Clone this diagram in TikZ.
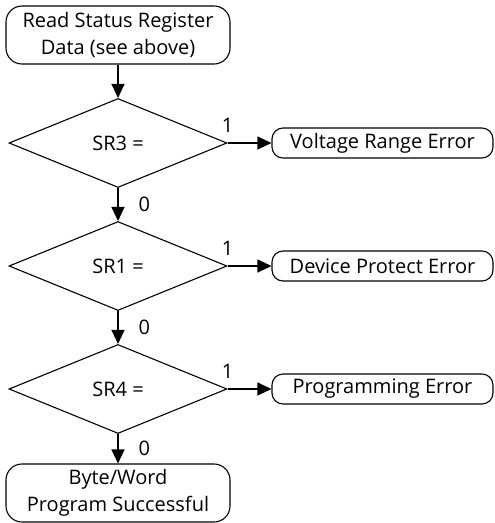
\documentclass[tikz,border=0pt]{standalone}
\usepackage{fontspec}
\setmainfont{Open Sans}
\usetikzlibrary{shapes.geometric,arrows.meta}
\begin{document}
\begin{tikzpicture}[x=1pt,y=-1pt,
  every node/.style={font=\fontsize{20}{27}\selectfont},
  conn/.style={line width=1.1pt,-{Triangle[length=14pt,width=13pt]}},
  bigbox/.style={draw,line width=1.1pt,rounded corners=16pt,minimum width=224pt,minimum height=58pt,align=center,inner sep=0pt},
  errbox/.style={draw,line width=1.1pt,rounded corners=11pt,minimum width=221pt,minimum height=30pt,inner sep=0pt},
  decision/.style={draw,diamond,line width=1.1pt,minimum width=218pt,minimum height=89pt,inner sep=0pt},
  lbl/.style={inner sep=0pt}]
\useasboundingbox (0,0) rectangle (495,523);
\node[bigbox] (start) at (118,35) {Read Status Register\\Data (see above)};
\node[decision] (d1) at (118,143) {SR3 =};
\node[decision] (d2) at (118,266) {SR1 =};
\node[decision] (d3) at (118,389) {SR4 =};
\node[bigbox] (done) at (118,493) {Byte/Word\\Program Successful};
\node[errbox] (e1) at (382.5,143) {Voltage Range Error};
\node[errbox] (e2) at (382.5,266) {Device Protect Error};
\node[errbox] (e3) at (382.5,389) {Programming Error};
\draw[conn] (start) -- (d1);
\draw[conn] (d1) -- node[lbl,right=20pt] {0} (d2);
\draw[conn] (d2) -- node[lbl,right=20pt] {0} (d3);
\draw[conn] (d3) -- node[lbl,right=20pt] {0} (done);
\draw[conn] (d1.east) -- (e1);
\draw[conn] (d2.east) -- (e2);
\draw[conn] (d3.east) -- (e3);
\node[lbl,anchor=south] at ([yshift=10pt]d1.east) {1};
\node[lbl,anchor=south] at ([yshift=10pt]d2.east) {1};
\node[lbl,anchor=south] at ([yshift=10pt]d3.east) {1};
\end{tikzpicture}
\end{document}
